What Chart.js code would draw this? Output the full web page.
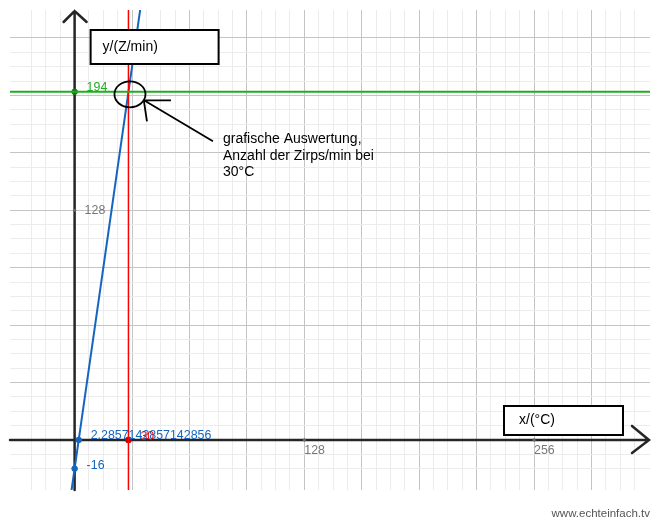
<!DOCTYPE html>
<html>
<head>
<meta charset="utf-8">
<script src="https://cdn.jsdelivr.net/npm/chart.js@4"></script>
<style>
  html, body { margin: 0; padding: 0; background: #fff; }
  #wrap { width: 660px; height: 524px; }
</style>
</head>
<body>
<div id="wrap"><canvas id="chart"></canvas></div>
<script>
// values
const xRange = [-36, 320.6];
const yRange = [-27.9, 239.6];

// blue line y = 7x - 16 (two points beyond the plot edges)
const blueX = [-2, 38];
const blueY = [-30, 250];
// red vertical x = 30
const redX = [30, 30];
const redY = [-40, 260];
// green horizontal y = 194
const greenX = [-50, 340];
const greenY = [194, 194];

const bluePtsX = [0, 2.2857142857142856];
const bluePtsY = [-16, 0];
const greenPtX = [0];
const greenPtY = [194];
const redPtX = [30];
const redPtY = [0];

const xTickLabels = [128, 256];
const yTickLabels = [128];

const blue = "#1565c0";
const red = "#ff0000";
const green = "#1fae1f";

const pts = (xs, ys) => xs.map((x, i) => ({ x: x, y: ys[i] }));

const gridColor = (c) => {
  const v = c.tick.value;
  if (Math.abs(v % 32) < 1e-6) return "#c4c4c4";
  if (Math.abs(v % 8) < 1e-6) return "#ececec";
  return "rgba(0,0,0,0)";
};

const overlay = {
  id: "overlay",
  beforeDatasetsDraw(chart) {
    const { ctx, chartArea: a, scales } = chart;
    const x0 = scales.x.getPixelForValue(0);
    const y0 = scales.y.getPixelForValue(0);
    ctx.save();
    ctx.strokeStyle = "#262626";
    ctx.lineWidth = 2.5;
    ctx.lineCap = "round";
    // x axis with arrow
    ctx.beginPath();
    ctx.moveTo(a.left, y0);
    ctx.lineTo(a.right - 1, y0);
    ctx.moveTo(a.right - 18, y0 - 14);
    ctx.lineTo(a.right - 1, y0);
    ctx.lineTo(a.right - 18, y0 + 13);
    ctx.stroke();
    // y axis with arrow
    ctx.beginPath();
    ctx.moveTo(x0, a.bottom);
    ctx.lineTo(x0, a.top + 1);
    ctx.moveTo(x0 - 11, a.top + 12);
    ctx.lineTo(x0, a.top + 1);
    ctx.lineTo(x0 + 12, a.top + 12);
    ctx.stroke();
    // tick dots
    ctx.fillStyle = "#666";
    xTickLabels.forEach((v) => {
      ctx.beginPath();
      ctx.arc(scales.x.getPixelForValue(v), y0, 1.6, 0, Math.PI * 2);
      ctx.fill();
    });
    yTickLabels.forEach((v) => {
      ctx.beginPath();
      ctx.arc(x0, scales.y.getPixelForValue(v), 1.6, 0, Math.PI * 2);
      ctx.fill();
    });
    ctx.restore();
  },
  afterDatasetsDraw(chart) {
    const { ctx, scales } = chart;
    const px = (v) => scales.x.getPixelForValue(v);
    const py = (v) => scales.y.getPixelForValue(v);
    const x0 = px(0);
    const y0 = py(0);
    ctx.save();
    ctx.textBaseline = "middle";
    ctx.font = "12.4px Arial, 'Liberation Sans', sans-serif";

    // axis numbers
    ctx.fillStyle = "#777";
    xTickLabels.forEach((v) => ctx.fillText(String(v), px(v), y0 + 11));
    yTickLabels.forEach((v) => ctx.fillText(String(v), x0 + 10, py(v)));

    // point labels
    ctx.fillStyle = green;
    ctx.fillText(String(greenPtY[0]), x0 + 12, py(greenPtY[0]) - 4);
    ctx.fillStyle = blue;
    ctx.fillText(String(bluePtsY[0]), x0 + 12, py(bluePtsY[0]) - 3);
    ctx.fillText(String(bluePtsX[1]), px(bluePtsX[1]) + 12, y0 - 4);
    ctx.fillStyle = red;
    ctx.fillText(String(redPtX[0]), px(redPtX[0]) + 12, y0 - 3);

    // text boxes
    ctx.lineWidth = 2;
    ctx.strokeStyle = "#000";
    ctx.fillStyle = "#fff";
    const box = (l, t, w, h, txt, pad) => {
      ctx.fillRect(l, t, w, h);
      ctx.strokeRect(l, t, w, h);
      ctx.fillStyle = "#000";
      ctx.font = "14px Arial, 'Liberation Sans', sans-serif";
      ctx.fillText(txt, l + pad, t + h / 2);
      ctx.fillStyle = "#fff";
    };
    box(x0 + 16, 30, 128, 34, "y/(Z/min)", 12);
    box(504, 406, 119, 29, "x/(°C)", 15);

    // circle around the intersection + arrow
    const cx = px(redPtX[0]) + 1.5;
    const cy = py(greenPtY[0]) + 2.5;
    ctx.lineWidth = 1.8;
    ctx.beginPath();
    ctx.ellipse(cx, cy, 15.5, 13, 0, 0, Math.PI * 2);
    ctx.stroke();
    ctx.beginPath();
    ctx.moveTo(cx + 14, cy + 6);
    ctx.lineTo(cx + 83, cy + 47);
    ctx.moveTo(cx + 15, cy + 6);
    ctx.lineTo(cx + 41, cy + 6);
    ctx.moveTo(cx + 14, cy + 7);
    ctx.lineTo(cx + 17, cy + 27);
    ctx.stroke();

    ctx.fillStyle = "#000";
    ctx.font = "14px Arial, 'Liberation Sans', sans-serif";
    ctx.fillText("grafische Auswertung,", 223, 139);
    ctx.fillText("Anzahl der Zirps/min bei", 223, 156);
    ctx.fillText("30°C", 223, 172);

    // watermark
    ctx.fillStyle = "#555";
    ctx.font = "11.5px Arial, 'Liberation Sans', sans-serif";
    ctx.textAlign = "right";
    ctx.fillText("www.echteinfach.tv", 650, 514);
    ctx.restore();
  },
};

new Chart(document.getElementById("chart"), {
  type: "scatter",
  data: {
    datasets: [
      {
        data: pts(greenX, greenY),
        showLine: true,
        borderColor: green,
        borderWidth: 2,
        pointRadius: 0,
      },
      {
        data: pts(redX, redY),
        showLine: true,
        borderColor: red,
        borderWidth: 1.5,
        pointRadius: 0,
      },
      {
        data: pts(blueX, blueY),
        showLine: true,
        borderColor: blue,
        borderWidth: 2,
        pointRadius: 0,
      },
      {
        data: pts(bluePtsX, bluePtsY),
        backgroundColor: blue,
        borderColor: blue,
        pointRadius: 2.8,
      },
      {
        data: pts(greenPtX, greenPtY),
        backgroundColor: "#117a11",
        borderColor: "#117a11",
        pointRadius: 2.8,
      },
      {
        data: pts(redPtX, redPtY),
        backgroundColor: "#cc0000",
        borderColor: "#cc0000",
        pointRadius: 3,
      },
    ],
  },
  options: {
    responsive: true,
    maintainAspectRatio: false,
    animation: false,
    events: [],
    layout: { padding: { left: 10, right: 10, top: 10, bottom: 34 } },
    plugins: { legend: { display: false }, tooltip: { enabled: false } },
    scales: {
      x: {
        type: "linear",
        min: xRange[0],
        max: xRange[1],
        ticks: { display: false, stepSize: 8 },
        grid: { color: gridColor, drawTicks: false, lineWidth: 1 },
        border: { display: false },
      },
      y: {
        type: "linear",
        min: yRange[0],
        max: yRange[1],
        ticks: { display: false, stepSize: 8 },
        grid: { color: gridColor, drawTicks: false, lineWidth: 1 },
        border: { display: false },
      },
    },
  },
  plugins: [overlay],
});
</script>
</body>
</html>
